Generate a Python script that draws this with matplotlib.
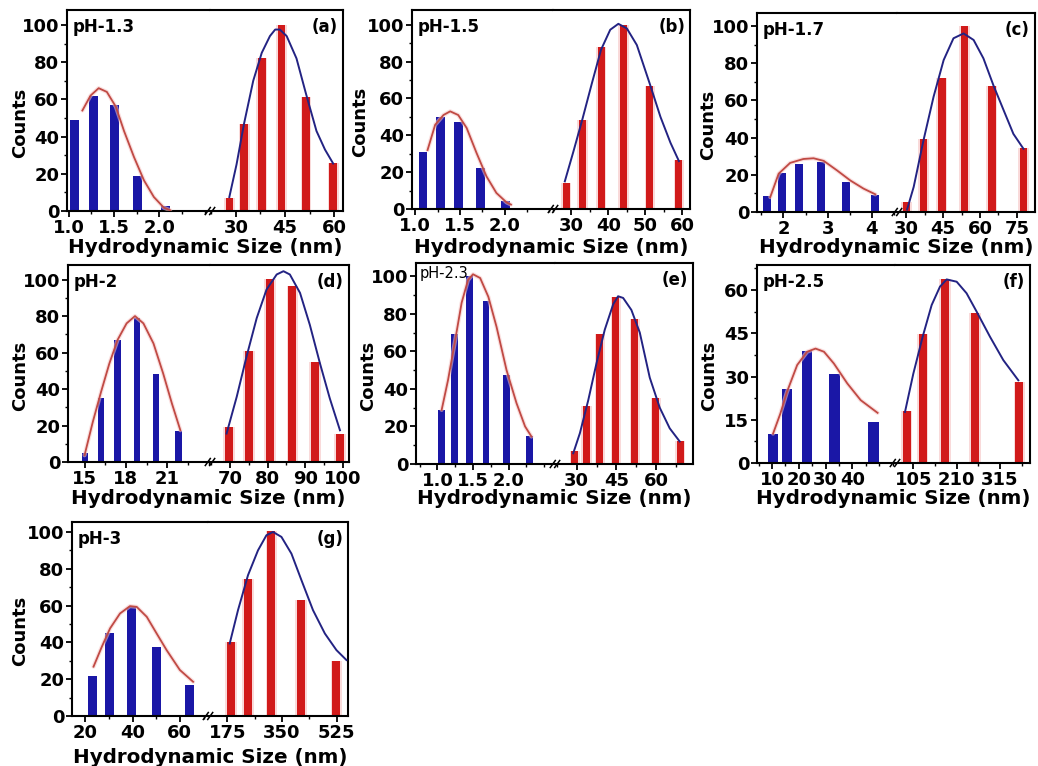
import matplotlib
matplotlib.use("Agg")
import matplotlib.pyplot as plt
from matplotlib.ticker import MultipleLocator, FixedLocator
from matplotlib.lines import Line2D
from matplotlib.transforms import Bbox, TransformedBbox

plt.rcParams['font.family'] = ['DejaVu Sans']
plt.rcParams['font.weight'] = 'bold'

# ---------------- data ----------------
ph_labels = ["pH-1.3", "pH-1.5", "pH-1.7", "pH-2", "pH-2.3", "pH-2.5", "pH-3"]
panel_tags = ["(a)", "(b)", "(c)", "(d)", "(e)", "(f)", "(g)"]
x_title = "Hydrodynamic Size (nm)"
y_title = "Counts"

# (a) pH-1.3
ph13_small_x = [1.06, 1.27, 1.50, 1.76, 2.07]
ph13_small_counts = [49, 62, 57, 19, 2.5]
ph13_small_fit_x = [1.15, 1.24, 1.33, 1.42, 1.52, 1.61, 1.72, 1.83, 1.94, 2.05, 2.12]
ph13_small_fit_y = [54, 62, 66, 64, 56, 43, 29, 16.5, 7.5, 1.8, 0.4]
ph13_large_x = [28.0, 32.5, 37.9, 43.9, 51.4, 59.7]
ph13_large_counts = [7, 47, 82, 100, 61, 26]
ph13_large_fit_x = [28.0, 30.2, 32.5, 35.3, 37.9, 40.4, 42.0, 43.4, 45.5, 48.5, 51.4, 54.6, 57.2, 59.7]
ph13_large_fit_y = [7.5, 25, 47, 70, 85, 94, 97.5, 97.5, 94, 82, 63, 43, 33, 25.5]
ph13_small_ticks, ph13_small_ticklabels = [1.0, 1.5, 2.0], ["1.0", "1.5", "2.0"]
ph13_large_ticks, ph13_large_ticklabels = [30, 45, 60], ["30", "45", "60"]

# (b) pH-1.5
ph15_small_x = [1.085, 1.28, 1.485, 1.73, 2.01]
ph15_small_counts = [31, 50, 47, 22, 4.3]
ph15_small_fit_x = [1.137, 1.222, 1.315, 1.39, 1.48, 1.574, 1.685, 1.796, 1.907, 2.02, 2.07]
ph15_small_fit_y = [32, 45.7, 51, 53, 51, 44, 30.4, 17.7, 8.7, 3.6, 2.4]
ph15_large_x = [28.6, 33.0, 38.0, 44.1, 51.2, 59.1]
ph15_large_counts = [14, 48.5, 87.7, 100, 66.5, 26.8]
ph15_large_fit_x = [28.2, 30.5, 33.0, 35.5, 38.0, 40.5, 42.7, 45.0, 47.7, 51.2, 54.1, 56.8, 59.1]
ph15_large_fit_y = [15, 31, 49, 68, 86.4, 97.3, 100.5, 98, 89, 68, 50, 36, 26]
ph15_small_ticks, ph15_small_ticklabels = [1.0, 1.5, 2.0], ["1.0", "1.5", "2.0"]
ph15_large_ticks, ph15_large_ticklabels = [30, 40, 50, 60], ["30", "40", "50", "60"]

# (c) pH-1.7
ph17_small_x = [1.62, 1.96, 2.36, 2.85, 3.41, 4.08]
ph17_small_counts = [8.4, 21, 26, 27, 16, 9]
ph17_small_fit_x = [1.70, 1.89, 2.15, 2.45, 2.68, 2.91, 3.21, 3.51, 3.81, 4.08]
ph17_small_fit_y = [8, 20.6, 26.4, 28.5, 28.9, 27.5, 22.4, 17, 12.6, 9.5]
ph17_large_x = [30.0, 37.0, 44.5, 53.6, 64.8, 77.7]
ph17_large_counts = [5.4, 39.5, 72, 100, 68, 34.6]
ph17_large_fit_x = [30.3, 33.0, 37.0, 41.1, 45.2, 49.2, 53.3, 57.4, 61.4, 65.5, 69.6, 73.6, 77.7]
ph17_large_fit_y = [1.3, 13.5, 38.6, 62, 81.7, 93.4, 96, 92.5, 82.6, 68, 54.8, 42, 34]
ph17_small_ticks, ph17_small_ticklabels = [2, 3, 4], ["2", "3", "4"]
ph17_large_ticks, ph17_large_ticklabels = [30, 45, 60, 75], ["30", "45", "60", "75"]

# (d) pH-2
ph20_small_x = [15.05, 16.2, 17.4, 18.8, 20.2, 21.8]
ph20_small_counts = [5, 35, 67, 79, 48, 17]
ph20_small_fit_x = [15.0, 15.6, 16.2, 16.8, 17.4, 18.05, 18.66, 19.27, 20.0, 20.7, 21.34, 21.95]
ph20_small_fit_y = [3.7, 22, 38.5, 54, 67, 76, 80, 76, 65, 48.6, 32, 17.4]
ph20_large_x = [69.8, 75.1, 80.6, 86.6, 92.6, 99.2]
ph20_large_counts = [19.3, 61, 100.4, 96.3, 55, 15.6]
ph20_large_fit_x = [69.1, 71.8, 74.4, 77.1, 79.7, 82.4, 84.2, 85.9, 88.6, 91.2, 93.9, 96.5, 99.2]
ph20_large_fit_y = [15.6, 35.8, 57.8, 78.9, 94.5, 102.8, 104.6, 102.8, 92.7, 75.2, 54, 34.9, 17.4]
ph20_small_ticks, ph20_small_ticklabels = [15, 18, 21], ["15", "18", "21"]
ph20_large_ticks, ph20_large_ticklabels = [70, 80, 90, 100], ["70", "80", "90", "100"]

# (e) pH-2.3
ph23_small_x = [1.06, 1.24, 1.45, 1.68, 1.97, 2.29]
ph23_small_counts = [28.5, 69.4, 100, 86.7, 47.5, 15]
ph23_small_fit_x = [1.06, 1.15, 1.25, 1.34, 1.43, 1.50, 1.60, 1.715, 1.83, 1.97, 2.11, 2.23, 2.32]
ph23_small_fit_y = [28.8, 44.8, 66, 85.8, 98, 101, 99, 89, 73, 50, 32.4, 20, 14.6]
ph23_large_x = [29.4, 33.75, 38.75, 44.75, 51.9, 59.75, 69.0]
ph23_large_counts = [7, 31, 69, 89, 77, 35, 12]
ph23_large_fit_x = [28.75, 31.25, 34.4, 37.5, 40.6, 43.75, 45.6, 47.5, 50.6, 53.75, 57.5, 61.25, 65.0, 68.75]
ph23_large_fit_y = [5.7, 16.4, 34, 53.7, 71.5, 85, 89.3, 88.4, 82, 70, 46, 30, 19, 12]
ph23_small_ticks, ph23_small_ticklabels = [1.0, 1.5, 2.0], ["1.0", "1.5", "2.0"]
ph23_large_ticks, ph23_large_ticklabels = [30, 45, 60, 75], ["30", "45", "60", "75"]

# (f) pH-2.5
ph25_small_x = [10.4, 15.6, 23.1, 33.4, 47.9]
ph25_small_counts = [10, 25.6, 39, 31, 14.3]
ph25_small_fit_x = [10.4, 13.1, 15.6, 19.4, 23.1, 26.25, 29.4, 33.1, 38.1, 43.1, 49.4]
ph25_small_fit_y = [10.2, 17.1, 24.7, 34, 38.6, 39.7, 38.6, 34.5, 27.6, 21.8, 17.4]
ph25_large_x = [88.8, 127.6, 181.7, 254.4, 361.9]
ph25_large_counts = [18, 44.7, 64, 52, 28.2]
ph25_large_fit_x = [84.8, 105, 127.6, 149.4, 169.6, 185.8, 210, 234, 258.5, 290.8, 323, 359.4]
ph25_large_fit_y = [17.7, 31, 43.8, 54.8, 61.2, 63.7, 62.9, 58.9, 52.5, 43.8, 35.7, 28.7]
ph25_small_ticks, ph25_small_ticklabels = [10, 20, 30, 40], ["10", "20", "30", "40"]
ph25_large_ticks, ph25_large_ticklabels = [105, 210, 315], ["105", "210", "315"]

# (g) pH-3
ph30_small_x = [23.1, 30.1, 39.4, 50.2, 64.2]
ph30_small_counts = [22, 45, 59, 37.6, 16.8]
ph30_small_fit_x = [23.5, 27, 30.5, 34.7, 38.9, 41.75, 46, 50.2, 54.4, 60, 65.6]
ph30_small_fit_y = [26.8, 37.6, 47.6, 55.7, 59.7, 59.3, 53.9, 44.8, 35.8, 25, 18.6]
ph30_large_x = [185.7, 241.2, 315.9, 409.8, 524.0]
ph30_large_counts = [40.3, 74.7, 100.5, 63, 30]
ph30_large_fit_x = [182.5, 209, 241, 273, 300, 321, 348, 380, 412, 449, 487, 524, 556]
ph30_large_fit_y = [39.4, 57.5, 76.5, 90, 98.2, 100, 97.3, 88.2, 73.8, 57.5, 44.8, 35.8, 30.4]
ph30_small_ticks, ph30_small_ticklabels = [20, 40, 60], ["20", "40", "60"]
ph30_large_ticks, ph30_large_ticklabels = [175, 350, 525], ["175", "350", "525"]

# ---------------- layout / style ----------------
W, H = 1038, 766
BLUE = '#1a17a6'
RED = '#d11a1a'
RED_LINE = '#c04a44'
BLUE_LINE = '#232383'

fig = plt.figure(figsize=(W / 100, H / 100), dpi=100)
fig.patch.set_facecolor('white')

data = [
    (ph13_small_x, ph13_small_counts, ph13_small_fit_x, ph13_small_fit_y,
     ph13_large_x, ph13_large_counts, ph13_large_fit_x, ph13_large_fit_y,
     ph13_small_ticks, ph13_small_ticklabels, ph13_large_ticks, ph13_large_ticklabels),
    (ph15_small_x, ph15_small_counts, ph15_small_fit_x, ph15_small_fit_y,
     ph15_large_x, ph15_large_counts, ph15_large_fit_x, ph15_large_fit_y,
     ph15_small_ticks, ph15_small_ticklabels, ph15_large_ticks, ph15_large_ticklabels),
    (ph17_small_x, ph17_small_counts, ph17_small_fit_x, ph17_small_fit_y,
     ph17_large_x, ph17_large_counts, ph17_large_fit_x, ph17_large_fit_y,
     ph17_small_ticks, ph17_small_ticklabels, ph17_large_ticks, ph17_large_ticklabels),
    (ph20_small_x, ph20_small_counts, ph20_small_fit_x, ph20_small_fit_y,
     ph20_large_x, ph20_large_counts, ph20_large_fit_x, ph20_large_fit_y,
     ph20_small_ticks, ph20_small_ticklabels, ph20_large_ticks, ph20_large_ticklabels),
    (ph23_small_x, ph23_small_counts, ph23_small_fit_x, ph23_small_fit_y,
     ph23_large_x, ph23_large_counts, ph23_large_fit_x, ph23_large_fit_y,
     ph23_small_ticks, ph23_small_ticklabels, ph23_large_ticks, ph23_large_ticklabels),
    (ph25_small_x, ph25_small_counts, ph25_small_fit_x, ph25_small_fit_y,
     ph25_large_x, ph25_large_counts, ph25_large_fit_x, ph25_large_fit_y,
     ph25_small_ticks, ph25_small_ticklabels, ph25_large_ticks, ph25_large_ticklabels),
    (ph30_small_x, ph30_small_counts, ph30_small_fit_x, ph30_small_fit_y,
     ph30_large_x, ph30_large_counts, ph30_large_fit_x, ph30_large_fit_y,
     ph30_small_ticks, ph30_small_ticklabels, ph30_large_ticks, ph30_large_ticklabels),
]

# box (L, T, R, B) px, break px, left xlim, right xlim, ymax, ystep,
# left minor, right minor, blue bar px, red bar px, ylabel x px, xlabel baseline px
layout = [
    dict(box=(67, 10, 343, 211), brk=210, xl=(0.98, 2.56), xr=(22.1, 62.7), ymax=108, ystep=20,
         lmin=0.25, rmin=7.5, wb=9, wr=7.5, ylx=20, xlb=253),
    dict(box=(412, 10, 690, 209), brk=553, xl=(0.963, 2.54), xr=(25.0, 62.1), ymax=108, ystep=20,
         lmin=0.25, rmin=5, wb=8.5, wr=7, ylx=360, xlb=253),
    dict(box=(757, 13, 1035, 212), brk=897, xl=(1.40, 4.57), xr=(26.2, 82.4), ymax=107, ystep=20,
         lmin=0.5, rmin=7.5, wb=8, wr=7.5, ylx=708, xlb=253),
    dict(box=(68, 265, 349, 462), brk=210, xl=(13.8, 24.1), xr=(64.7, 101.6), ymax=108, ystep=20,
         lmin=1.5, rmin=5, wb=6.5, wr=8, ylx=20, xlb=504),
    dict(box=(416, 263, 693, 464), brk=555, xl=(0.70, 2.65), xr=(21.9, 73.75), ymax=107, ystep=20,
         lmin=0.25, rmin=7.5, wb=6.5, wr=7, ylx=368, xlb=504),
    dict(box=(757, 265, 1030, 463), brk=895, xl=(4.4, 55.9), xr=(60.6, 387.7), ymax=68.7, ystep=15,
         lmin=5, rmin=52.5, wb=10.5, wr=8, ylx=709, xlb=504),
    dict(box=(72, 522, 348, 716), brk=208, xl=(14.4, 71.9), xr=(113, 561), ymax=105.4, ystep=20,
         lmin=10, rmin=87.5, wb=9, wr=8, ylx=20, xlb=763),
]


def style_axis(ax, ticks, labels, minor, ymax, ystep, side):
    ax.set_ylim(0, ymax)
    ax.xaxis.set_major_locator(FixedLocator(ticks))
    ax.set_xticklabels(labels)
    ax.xaxis.set_minor_locator(MultipleLocator(minor))
    ax.yaxis.set_major_locator(MultipleLocator(ystep))
    ax.yaxis.set_minor_locator(MultipleLocator(ystep / 2))
    ax.tick_params(axis='both', which='major', direction='out', length=4.5, width=1.3,
                   labelsize=13, pad=1, colors='black')
    ax.tick_params(axis='both', which='minor', direction='out', length=2.5, width=1.0)
    ax.tick_params(axis='x', top=False, which='both')
    for s in ax.spines.values():
        s.set_linewidth(1.5)
    if side == 'left':
        ax.spines['right'].set_visible(False)
        ax.tick_params(axis='y', right=False, which='both')
    else:
        ax.spines['left'].set_visible(False)
        ax.tick_params(axis='y', left=False, right=False, labelleft=False, which='both')
    for lab in ax.get_xticklabels() + ax.get_yticklabels():
        lab.set_fontweight('bold')


for i, (d, lay) in enumerate(zip(data, layout)):
    (sx, sc, sfx, sfy, lx, lc, lfx, lfy, st, stl, lt, ltl) = d
    L, T, R, B = lay['box']
    brk = lay['brk']
    axl = fig.add_axes([L / W, 1 - B / H, (brk - L) / W, (B - T) / H])
    axr = fig.add_axes([brk / W, 1 - B / H, (R - brk) / W, (B - T) / H])

    axl.set_xlim(*lay['xl'])
    axr.set_xlim(*lay['xr'])
    wl = lay['wb'] * (lay['xl'][1] - lay['xl'][0]) / (brk - L)
    wr = lay['wr'] * (lay['xr'][1] - lay['xr'][0]) / (R - brk)

    axl.bar(sx, sc, width=wl, color=BLUE, linewidth=0, zorder=2)
    axl.plot(sfx, sfy, color='#f6c6c6', lw=3.0, alpha=0.55, zorder=3, solid_capstyle='round')
    axl.plot(sfx, sfy, color=RED_LINE, lw=1.3, zorder=4)

    axr.bar(lx, lc, width=wr * 1.45, color='#f9dada', linewidth=0, zorder=1)
    axr.bar(lx, lc, width=wr, color=RED, linewidth=0, zorder=2)
    axr.plot(lfx, lfy, color=BLUE_LINE, lw=1.4, zorder=4)

    style_axis(axl, st, stl, lay['lmin'], lay['ymax'], lay['ystep'], 'left')
    style_axis(axr, lt, ltl, lay['rmin'], lay['ymax'], lay['ystep'], 'right')

    # clip labels running past the panel area (as in the source figure)
    if i == 4:
        clip = TransformedBbox(Bbox.from_extents(0, 0, 695 / W, 1), fig.transFigure)
        for t in axr.xaxis.get_major_ticks():
            t.label1.set_clip_box(clip)
            t.label1.set_clip_on(True)

    # axis titles
    axl.set_ylabel(y_title, fontsize=13, fontweight='bold', va='center', ha='center')
    axl.yaxis.set_label_coords(lay['ylx'] / W, 1 - ((T + B) / 2 + 12) / H, transform=fig.transFigure)
    axl.set_xlabel(x_title, fontsize=14.3, fontweight='bold', va='baseline', ha='center')
    axl.xaxis.set_label_coords(((L + R) / 2) / W, 1 - lay['xlb'] / H, transform=fig.transFigure)

    # panel annotations
    if i == 4:
        fig.text((L + 4) / W, 1 - (T + 3) / H, ph_labels[i], fontsize=10.5,
                 fontweight='normal', ha='left', va='top')
    else:
        fig.text((L + 6) / W, 1 - (T + 8) / H, ph_labels[i], fontsize=12,
                 fontweight='bold', ha='left', va='top')
    fig.text((R - 5) / W, 1 - (T + 8) / H, panel_tags[i], fontsize=12,
             fontweight='bold', ha='right', va='top')

    # axis-break mark "//"
    for off in (-2.2, 2.2):
        x0, x1 = brk + off - 2.5, brk + off + 2.5
        fig.add_artist(Line2D([x0 / W, x1 / W], [1 - (B + 3.5) / H, 1 - (B - 3.5) / H],
                              color='black', lw=1.1, transform=fig.transFigure))

fig.savefig('out.png', dpi=100, facecolor='white')
